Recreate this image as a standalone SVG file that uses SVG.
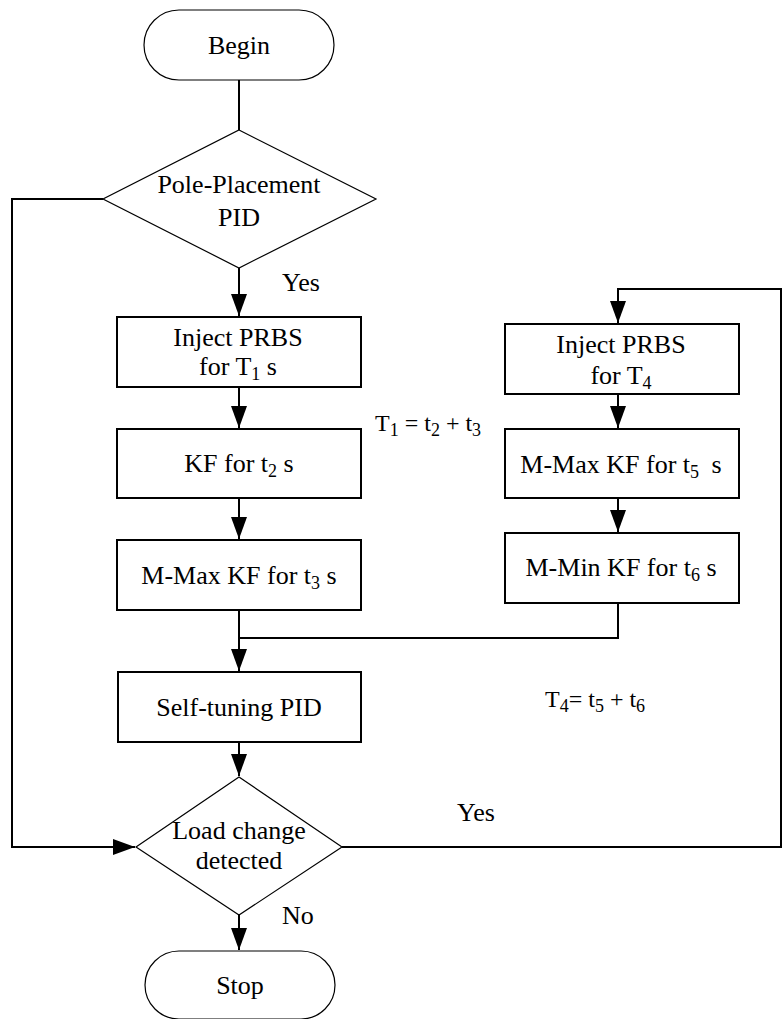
<svg xmlns="http://www.w3.org/2000/svg" width="782" height="1019" viewBox="0 0 782 1019">
<style>
text{font-family:'Liberation Serif','Times New Roman','DejaVu Serif',serif;font-size:26px;fill:#000;text-anchor:middle}
.box{fill:#fff;stroke:#000;stroke-width:2}
.thin{fill:#fff;stroke:#000;stroke-width:1.2}
.conn{fill:none;stroke:#000;stroke-width:2}
.sub{font-size:18px}
.lbl{font-size:24px;text-anchor:start}
</style>
<defs>
<marker id="ah" markerUnits="userSpaceOnUse" markerWidth="22" markerHeight="16" refX="22" refY="8" orient="auto">
<path d="M0,0 L22,8 L0,16 z" fill="#000"/>
</marker>
</defs>
<rect width="782" height="1019" fill="#fff"/>
<g id="connectors">
<path class="conn" d="M239,80 V130"/>
<path class="conn" d="M239,268 V316" marker-end="url(#ah)"/>
<path class="conn" d="M239,387 V428" marker-end="url(#ah)"/>
<path class="conn" d="M239,498 V539" marker-end="url(#ah)"/>
<path class="conn" d="M239,610 V671" marker-end="url(#ah)"/>
<path class="conn" d="M618,603 V638 H239"/>
<path class="conn" d="M618,394 V428" marker-end="url(#ah)"/>
<path class="conn" d="M618,498 V532" marker-end="url(#ah)"/>
<path class="conn" d="M239,742 V776" marker-end="url(#ah)"/>
<path class="conn" d="M239,915 V950" marker-end="url(#ah)"/>
<path class="conn" d="M103,199 H12 V847 H135" marker-end="url(#ah)"/>
<path class="conn" d="M342,847 H781 V289 H618 V323" marker-end="url(#ah)"/>
</g>
<g id="begin">
<rect class="thin" x="144" y="10" width="190" height="70" rx="35"/>
<text x="239" y="54" font-family="Liberation Serif, serif">Begin</text>
</g>
<g id="pole-placement">
<polygon class="thin" points="239,130 376,199 239,268 103,199"/>
<text x="239" y="193">Pole-Placement</text>
<text x="239" y="226">PID</text>
</g>
<g id="inject1">
<rect class="box" x="117" y="317" width="244" height="70"/>
<text x="238" y="346">Inject PRBS</text>
<text x="238" y="375">for T<tspan class="sub" dy="5">1</tspan><tspan dy="-5"> s</tspan></text>
</g>
<g id="kf">
<rect class="box" x="117" y="429" width="244" height="69"/>
<text x="239" y="472">KF for t<tspan class="sub" dy="5">2</tspan><tspan dy="-5"> s</tspan></text>
</g>
<g id="mmax1">
<rect class="box" x="117" y="540" width="244" height="70"/>
<text x="239" y="584">M-Max KF for t<tspan class="sub" dy="5">3</tspan><tspan dy="-5"> s</tspan></text>
</g>
<g id="inject2">
<rect class="box" x="505" y="324" width="234" height="70"/>
<text x="621" y="353">Inject PRBS</text>
<text x="621" y="384">for T<tspan class="sub" dy="5">4</tspan></text>
</g>
<g id="mmax2">
<rect class="box" x="505" y="429" width="234" height="69"/>
<text x="621" y="473">M-Max KF for t<tspan class="sub" dy="5">5</tspan><tspan dx="6" dy="-5"> s</tspan></text>
</g>
<g id="mmin">
<rect class="box" x="505" y="533" width="234" height="70"/>
<text x="621" y="576">M-Min KF for t<tspan class="sub" dy="5">6</tspan><tspan dy="-5"> s</tspan></text>
</g>
<g id="selftuning">
<rect class="box" x="118" y="672" width="243" height="70"/>
<text x="239" y="716">Self-tuning PID</text>
</g>
<g id="loadchange">
<polygon class="thin" points="239,777 342,847 239,915 136,847"/>
<text x="239" y="839">Load change</text>
<text x="239" y="869">detected</text>
</g>
<g id="stop">
<rect class="thin" x="145" y="951" width="190" height="68" rx="34"/>
<text x="240" y="994">Stop</text>
</g>
<g id="labels">
<text x="282" y="291" style="text-anchor:start">Yes</text>
<text x="457" y="821" style="text-anchor:start">Yes</text>
<text x="282" y="924" style="text-anchor:start">No</text>
<text class="lbl" x="375" y="431">T<tspan class="sub" dy="5">1</tspan><tspan dy="-5"> = t</tspan><tspan class="sub" dy="5">2</tspan><tspan dy="-5"> + t</tspan><tspan class="sub" dy="5">3</tspan></text>
<text class="lbl" x="545" y="707">T<tspan class="sub" dy="5">4</tspan><tspan dy="-5">= t</tspan><tspan class="sub" dy="5">5</tspan><tspan dy="-5"> + t</tspan><tspan class="sub" dy="5">6</tspan></text>
</g>
</svg>
